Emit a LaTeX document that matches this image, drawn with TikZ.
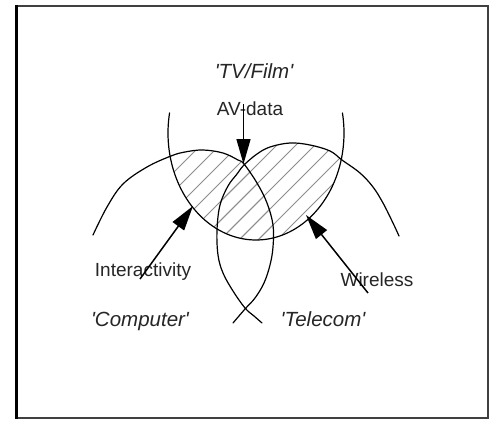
\documentclass[tikz,border=0pt]{standalone}
\usepackage{fontspec}
\newfontfamily\labelfont{Liberation Sans}
\usetikzlibrary{arrows.meta}
\begin{document}
\begin{tikzpicture}[x=1pt,y=-1pt,
  curve/.style={line width=1.2pt, line join=round, line cap=round},
  arr/.style={line width=1.5pt, -{Triangle[length=25pt,width=14pt]}},
  hatch/.style={black!45, line width=0.9pt},
  plain/.style={font=\labelfont\fontsize{19}{22}\selectfont, inner sep=0pt, anchor=base, text=black!85},
  sector/.style={font=\labelfont\itshape\fontsize{20.5}{24}\selectfont, inner sep=0pt, anchor=base, text=black!85}]

\useasboundingbox (0,0) rectangle (489,420);
\fill[white] (0,0) rectangle (489,420);

% frame
\draw[line width=2pt, black!75] (16.5,6.5) rectangle (487.5,418);
\draw[line width=3pt, black] (16.5,5.5) -- (16.5,419);

% hatching: inside the TV/Film lens and inside either of the two lower arcs
\begin{scope}
  \clip plot[domain=0:360,samples=120] ({256+88*cos(\x)},{133+107*sin(\x)}) -- cycle;
  \clip plot[smooth,tension=0.6] coordinates {(93,235) (107,207) (123,184) (147,167) (171,156) (185,152) (203,150) (223,153) (238,160) (244,164) (257,183) (267,203) (273,225) (273,247) (270,265) (264,283) (255,298) (245,309) (233,323)} -- cycle;
  \foreach \k in {-60,-41,...,320} \draw[hatch] (\k,330) -- ++(260,-260);
\end{scope}
\begin{scope}
  \clip plot[domain=0:360,samples=120] ({256+88*cos(\x)},{133+107*sin(\x)}) -- cycle;
  \clip plot[smooth,tension=0.6] coordinates {(262,323) (254,316) (245,308) (233,291) (223,273) (218,255) (217,230) (220,205) (228,186) (237,174) (244,165) (257,154) (270,147) (290,143) (310,145) (330,151) (342,160) (360,173) (373,187) (383,203) (393,223) (399,236)} -- cycle;
  \foreach \k in {-60,-41,...,320} \draw[hatch] (\k,330) -- ++(260,-260);
\end{scope}

% 'Computer' arc
\draw[curve] plot[smooth,tension=0.6] coordinates {(93,235) (107,207) (123,184) (147,167) (171,156) (185,152) (203,150) (223,153) (238,160) (244,164) (257,183) (267,203) (273,225) (273,247) (270,265) (264,283) (255,298) (245,309) (233,323)};
% 'Telecom' arc
\draw[curve] plot[smooth,tension=0.6] coordinates {(262,323) (254,316) (245,308) (233,291) (223,273) (218,255) (217,230) (220,205) (228,186) (237,174) (244,165) (257,154) (270,147) (290,143) (310,145) (330,151) (342,160) (360,173) (373,187) (383,203) (393,223) (399,236)};
% 'TV/Film' arc
\draw[curve] plot[domain=-10.8:190.8,samples=120] ({256+88*cos(\x)},{133+107*sin(\x)});

% labels
\node[sector] (tvfilm) at (254,78) {'TV/Film'};
\node[plain] (avdata) at (250,115.5) {AV-data};
\node[plain] (interact) at (143,276) {Interactivity};
\node[sector] (computer) at (140,326) {'Computer'};
\node[plain] (wireless) at (377,286) {Wireless};
\node[sector] (telecom) at (323,326) {'Telecom'};

% arrows
\coordinate (avtail) at (243.5,104);
\coordinate (avtip) at (243.5,164);
\coordinate (ittail) at (140,279);
\coordinate (ittip) at (193,206);
\coordinate (wtail) at (368,293);
\coordinate (wtip) at (306,215);
\draw[arr] (avtail) -- (avtip);
\draw[arr] (ittail) -- (ittip);
\draw[arr] (wtail) -- (wtip);
\end{tikzpicture}
\end{document}
